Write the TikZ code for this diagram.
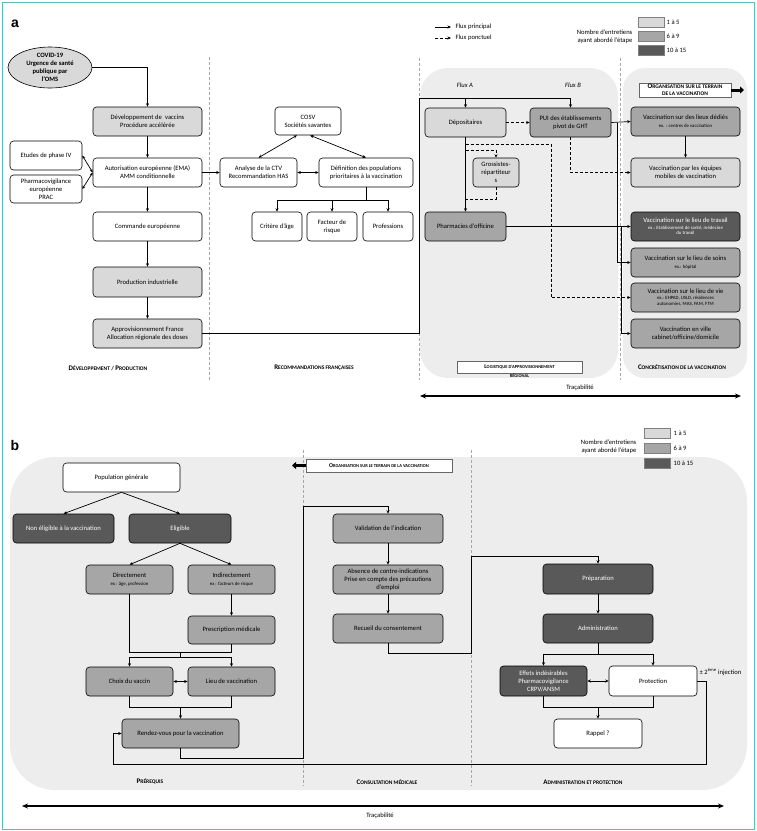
\documentclass[tikz,border=0pt]{standalone}
\usepackage{fontspec}
\setmainfont{Carlito}
\newfontfamily\arialf{Liberation Sans}
\usetikzlibrary{arrows.meta,shapes.geometric,calc}
\definecolor{lightc}{HTML}{D9D9D9}
\definecolor{midc}{HTML}{A6A6A6}
\definecolor{darkc}{HTML}{595959}
\definecolor{regc}{HTML}{EDEDED}
\definecolor{tealc}{HTML}{5CBDBD}
\definecolor{dashc}{HTML}{A8A8A8}
\newcommand\fs{\fontsize{6.6}{8}\selectfont}
\newcommand\exs{\fontsize{4.8}{5.8}\selectfont}
\newcommand\scx[2]{{\fontsize{5.8}{6}\selectfont #1}{\fontsize{4.5}{6}\selectfont #2}}
\newcommand\scy[2]{{\fontsize{7}{7}\selectfont #1}{\fontsize{5.5}{7}\selectfont #2}}
\newcommand\bx[7]{\node[#6, minimum width={(#4-#2)*1pt}, minimum height={(#5-#3)*1pt}] (#1) at ({(#2+#4)/2},{(#3+#5)/2}) {#7};}
\begin{document}
\begin{tikzpicture}[x=1pt,y=-1pt,
  box/.style={draw=black, line width=0.6pt, rounded corners=3.5pt, align=center, font=\fs, inner sep=1pt},
  L/.style={box, fill=lightc},
  M/.style={box, fill=midc},
  D/.style={box, fill=darkc, text=white},
  W/.style={box, fill=white},
  arr/.style={line width=0.7pt, -{Stealth[length=3.5pt,width=3pt]}},
  darr/.style={line width=0.7pt, {Stealth[length=3.5pt,width=3pt]}-{Stealth[length=3.5pt,width=3pt]}},
  ln/.style={line width=0.7pt},
  dsh/.style={line width=0.8pt, dash pattern=on 3pt off 2pt},
  sep/.style={dashc, line width=0.8pt, dash pattern=on 3pt off 2pt},
  seclab/.style={font=\bfseries\fontsize{6}{8}\selectfont, align=center, inner sep=0.5pt},
  orgbox/.style={draw=black!60, fill=white, line width=0.5pt, align=center, inner sep=0.5pt, font=\bfseries\fontsize{5}{6.5}\selectfont},
  legbox/.style={draw=black!50, line width=0.4pt, minimum width=26pt, minimum height=10pt, inner sep=0pt},
  txt/.style={font=\fs, align=center, inner sep=0.5pt},
  trac/.style={line width=1.3pt, {Stealth[length=6pt,width=5pt]}-{Stealth[length=6pt,width=5pt]}},
  bigarr/.style={line width=3pt, -{Triangle[length=4pt,width=7pt]}}
]
\useasboundingbox (0,0) rectangle (756,831);
\fill[white] (0,0) rectangle (756,831);
\draw[tealc, line width=1pt] (2,2) rectangle (754,829);

% ================= PANEL A =================
\node[font=\arialf\bfseries\fontsize{14}{14}\selectfont, inner sep=0pt] (la) at (15,24) {a};

% regions
\fill[regc, rounded corners=28pt] (420,68) rectangle (618,378);
\fill[regc, rounded corners=22pt] (623,68) rectangle (747,378);
% separators
\draw[sep] (209,57) -- (209,380);
\draw[sep] (419,58) -- (419,380);
\draw[sep] (620,58) -- (620,380);

% legend
\coordinate (lg1a) at (435,27); \coordinate (lg1b) at (451,27);
\coordinate (lg2a) at (435,38); \coordinate (lg2b) at (451,38);
\draw[arr] (lg1a) -- (lg1b);
\draw[arr, dsh] (lg2a) -- (lg2b);
\node[txt, anchor=west] (lgt1) at (455,27) {Flux principal};
\node[txt, anchor=west] (lgt2) at (455,38) {Flux ponctuel};
\node[txt, anchor=east, align=right] (lgn) at (633,37) {Nombre d'entretiens\\ayant abordé l'étape};
\node[legbox, fill=lightc] (lgl) at (651,22) {};
\node[legbox, fill=midc] (lgm) at (651,36) {};
\node[legbox, fill=darkc] (lgd) at (651,50) {};
\node[txt, anchor=west] at (666,22) {1 à 5};
\node[txt, anchor=west] at (666,36) {6 à 9};
\node[txt, anchor=west] at (666,50) {10 à 15};

% left column
\node[ellipse, draw, line width=0.6pt, fill=lightc, minimum width=84pt, minimum height=41pt, inner sep=0pt, align=center, font=\fs\bfseries] (covid) at (50,67.5) {COVID-19\\Urgence de santé\\publique par\\l'OMS};
\bx{dev}{93}{107}{202}{136}{L}{Développement de\enspace vaccins\\Procédure accélérée}
\bx{aut}{93}{158}{202}{187}{W}{Autorisation européenne (EMA)\\AMM conditionnelle}
\bx{etu}{10}{141}{82}{170}{W}{Etudes de phase IV}
\bx{pha}{10}{175}{82}{203}{W}{Pharmacovigilance\\européenne\\PRAC}
\bx{cmd}{93}{212}{202}{241}{W}{Commande européenne}
\bx{prd}{93}{267}{202}{297}{L}{Production industrielle}
\bx{app}{93}{319}{202}{348}{L}{Approvisionnement France\\Allocation régionale des doses}

\draw[arr] (covid.east) -| (dev.north);
\draw[arr] (dev.south) -- (aut.north);
\draw[arr] (aut.south) -- (cmd.north);
\draw[arr] (cmd.south) -- (prd.north);
\draw[arr] (prd.south) -- (app.north);
\draw[darr] (aut.west) -- (etu.east);
\draw[darr] (aut.west) -- (pha.east);

% middle column
\bx{cosv}{275}{107}{341}{135}{W}{COSV\\Sociétés savantes}
\bx{ana}{220}{158}{297}{187}{W}{Analyse de la CTV\\Recommandation HAS}
\bx{def}{319}{158}{413}{187}{W}{Définition des populations\\prioritaires à la vaccination}
\bx{cri}{252}{212}{302}{241}{W}{Critère d'âge}
\bx{fac}{307}{212}{357}{241}{W}{Facteur de\\risque}
\bx{pro}{363}{212}{413}{241}{W}{Professions}

\draw[arr] (aut.east) -- (ana.west);
\draw[darr] ([xshift=-11pt]cosv.south) -- (ana.north);
\draw[darr] ([xshift=2pt]cosv.south) -- (def.north);
\draw[darr] (ana.east) -- (def.west);
\coordinate (dj) at (def.south |- 0,200);
\draw[ln] (def.south) -- (dj);
\draw[arr] (dj) -| (cri.north);
\draw[arr] (dj) -| (pro.north);
\draw[arr] (fac.north |- dj) -- (fac.north);

% logistics
\node[txt, font=\fs\itshape] (fa) at (465,85) {Flux A};
\node[txt, font=\fs\itshape] (fb) at (573,85) {Flux B};
\bx{dep}{425}{108}{506}{137}{L}{Dépositaires}
\bx{pui}{530}{108}{611}{137}{M}{PUI des établissements\\pivot de GHT}
\bx{gro}{473}{158}{519}{187}{L}{Grossistes-\\répartiteur\\s}
\bx{phm}{425}{212}{506}{241}{M}{Pharmacies d'officine}

% concretisation
\node[orgbox, font=\bfseries\fontsize{6}{7}\selectfont, minimum width=92pt, minimum height=14pt] (orga) at (685,90) {\scy{O}{RGANISATION SUR LE TERRAIN}\\\scy{}{DE LA VACCINATION}};
\coordinate (orgtip) at (744,90);
\draw[bigarr] (orga.east) -- (orgtip);
\bx{led}{631}{107}{740}{136}{M}{Vaccination sur des lieux dédiés\\{\exs ex. : centres de vaccination}}
\bx{mob}{631}{158}{740}{187}{L}{Vaccination par les équipes\\mobiles de vaccination}
\bx{trv}{631}{212}{740}{241}{D}{Vaccination sur le lieu de travail\\[-1.5pt]{\exs ex.: Etablissement de santé, médecine}\\[-2.5pt]{\exs du travail}}
\bx{soi}{631}{248}{740}{277}{M}{Vaccination sur le lieu de soins\\{\exs ex.: hôpital}}
\bx{vie}{631}{283}{740}{312}{M}{Vaccination sur le lieu de vie\\[-1.5pt]{\exs ex.: EHPAD, USLD, résidences}\\[-2.5pt]{\exs autonomies, MAS, FAM, FTM}}
\bx{vil}{631}{319}{740}{348}{M}{Vaccination en ville\\cabinet/officine/domicile}

% flows
\coordinate (ft) at (419,98);
\draw[ln] (app.east) -| (ft) -- (dep.north |- ft);
\draw[arr] (dep.north |- ft) -| (pui.north);
\draw[arr] (dep.north |- ft) -- (dep.north);
\draw[arr, dsh] (dep.east) -- (pui.west);
\draw[arr] (dep.south) -- (phm.north);
\draw[arr, dsh] (dep.south |- 0,150) -| (gro.north);
\draw[dsh] (gro.south) |- (dep.south |- 0,199);
\coordinate (dv) at (551,144);
\draw[arr, dsh] (dep.south |- dv) -- (dv) |- (vie.west);
\draw[arr, dsh] (pui.south) |- (mob.west);
\draw[arr] (pui.east) -- (led.west);
\draw[arr] (pui.east -| 617,0) |- (soi.west);
\draw[arr] (phm.east) -- (trv.west);
\draw[arr] (phm.east -| 621.5,0) |- (vil.west);
\draw[arr] (led.south) -- (mob.north);

% section labels a
\node[seclab] (s1) at (108,368) {\scy{D}{ÉVELOPPEMENT} / \scy{P}{RODUCTION}};
\node[seclab] (s2) at (314,368) {\scy{R}{ECOMMANDATIONS FRANÇAISES}};
\node[draw=black!60, fill=white, line width=0.5pt, minimum width=125pt, minimum height=12pt, inner sep=0pt] (logb) at (519.5,367) {};
\node[seclab, font=\bfseries\fontsize{5.5}{9}\selectfont] (s3) at (519.5,371.5) {\scx{L}{OGISTIQUE D'APPROVISIONNEMENT}\\\scx{}{RÉGIONAL}};
\node[seclab] (s4) at (682,367) {\scy{C}{ONCRÉTISATION DE LA VACCINATION}};

% tracabilite a
\coordinate (ta1) at (420,396); \coordinate (ta2) at (741,396);
\draw[trac] (ta1) -- (ta2);
\node[txt] (tat) at (580,388) {Traçabilité};

% ================= PANEL B =================
\node[font=\arialf\bfseries\fontsize{14}{14}\selectfont, inner sep=0pt] (lb) at (15,445) {b};
\fill[regc, rounded corners=45pt] (10,457) rectangle (747,790);
\draw[sep] (303,450) -- (303,786);
\draw[sep] (471,450) -- (471,786);

% legend b
\node[txt, anchor=east, align=right] (lgnb) at (637,447) {Nombre d'entretiens\\ayant abordé l'étape};
\node[legbox, fill=lightc] (lgbl) at (657.5,433.5) {};
\node[legbox, fill=midc] (lgbm) at (657.5,448) {};
\node[legbox, fill=darkc] (lgbd) at (657.5,463) {};
\node[txt, anchor=west] at (673,433.5) {1 à 5};
\node[txt, anchor=west] at (673,448) {6 à 9};
\node[txt, anchor=west] at (673,463) {10 à 15};

% org b
\node[orgbox, minimum width=146pt, minimum height=13pt] (orgb) at (379,465.5) {\scx{O}{RGANISATION SUR LE TERRAIN DE LA VACCINATION}};
\coordinate (orgbtip) at (292,465.5);
\draw[bigarr] (orgb.west) -- (orgbtip);

% prerequis
\bx{pop}{63}{463}{180}{492}{W}{Population générale}
\bx{non}{13}{514}{114}{543}{D}{Non éligible à la vaccination}
\bx{eli}{129}{514}{231}{543}{D}{Eligible}
\bx{dir}{86}{565}{173}{594}{M}{Directement\\{\exs ex : âge, profession}}
\bx{ind}{188}{565}{275}{594}{M}{Indirectement\\{\exs ex : facteurs de risque}}
\bx{pre}{188}{616}{275}{644}{M}{Prescription médicale}
\bx{cho}{86}{667}{173}{696}{M}{Choix du vaccin}
\bx{lie}{188}{667}{275}{696}{M}{Lieu de vaccination}
\bx{rdv}{122}{719}{239}{748}{M}{Rendez-vous pour la vaccination}

\draw[arr] (pop.south) -- (non.north);
\draw[arr] (pop.south) -- (eli.north);
\draw[arr] (eli.south) -- (dir.north);
\draw[arr] (eli.south) -- (ind.north);
\draw[arr] (ind.south) -- (pre.north);
\coordinate (j1) at (180.5,652);
\coordinate (j2) at (180.5,657);
\coordinate (j3) at (180.5,707);
\draw[ln] (dir.south) |- (pre.south |- j1) -- (pre.south);
\draw[ln] (j1) -- (j2);
\draw[arr] (j2) -| (cho.north);
\draw[arr] (j2) -| (lie.north);
\draw[darr] (cho.east) -- (lie.west);
\draw[ln] (cho.south) |- (lie.south |- j3) -- (lie.south);
\draw[arr] (j3) -- (rdv.north);

% consultation
\bx{val}{333}{514}{443}{543}{M}{Validation de l'indication}
\bx{abs}{333}{565}{443}{594}{M}{Absence de contre-indications\\Prise en compte des précautions\\d'emploi}
\bx{rec}{333}{614}{443}{643}{M}{Recueil du consentement}
\draw[arr] (val.south) -- (abs.north);
\draw[arr] (abs.south) -- (rec.north);
\coordinate (q1) at (303,758); \coordinate (q2) at (303,506);
\draw[arr] (rdv.south) |- (q1) -- (q2) -| (val.north);

% administration
\bx{prp}{543}{564}{653}{594}{D}{Préparation}
\bx{adm}{543}{614}{653}{643}{D}{Administration}
\bx{eff}{500}{666}{587}{696}{D}{Effets indésirables\\Pharmacovigilance\\CRPV/ANSM}
\bx{prt}{609}{666}{697}{696}{W}{Protection}
\bx{rap}{554}{719}{642}{748}{W}{Rappel ?}
\coordinate (r1) at (471,653); \coordinate (r2) at (471,556);
\draw[arr] (rec.south) |- (r1) -- (r2) -| (prp.north);
\draw[arr] (prp.south) -- (adm.north);
\coordinate (k1) at (598,654); \coordinate (k2) at (598,707);
\draw[ln] (adm.south) -- (k1);
\draw[arr] (k1) -| (eff.north);
\draw[arr] (k1) -| (prt.north);
\draw[darr] (eff.east) -- (prt.west);
\draw[ln] (eff.south) |- (prt.south |- k2) -- (prt.south);
\draw[arr] (k2) -- (rap.north);
\node[txt, anchor=west] (inj) at (699,672) {± 2\textsuperscript{ème} injection};
\coordinate (p1) at (706,764); \coordinate (p2) at (113,764);
\draw[arr] (prt.east) -| (p1) -- (p2) |- (rdv.west);

% section labels b
\node[seclab] (s5) at (150,782) {\scy{P}{RÉREQUIS}};
\node[seclab] (s6) at (387,782) {\scy{C}{ONSULTATION MÉDICALE}};
\node[seclab] (s7) at (583,782) {\scy{A}{DMINISTRATION ET PROTECTION}};

% tracabilite b
\coordinate (tb1) at (22,806); \coordinate (tb2) at (724,806);
\draw[trac] (tb1) -- (tb2);
\node[txt] (tbt) at (380,816) {Traçabilité};
\end{tikzpicture}
\end{document}
